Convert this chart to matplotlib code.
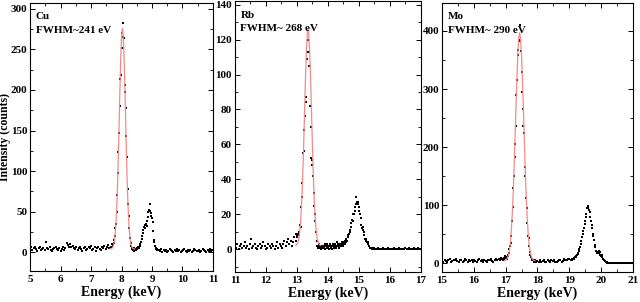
from __future__ import annotations

import matplotlib
matplotlib.use("Agg")
import matplotlib.pyplot as plt
import numpy as np
from matplotlib.ticker import MultipleLocator

# ---- Cu spectrum (counts, segments of constant channel step) ----
cu_bg_left = [4, 6, 3, 5, 7, 4, 2, 5, 6, 3, 4, 5, 3, 13, 5, 4, 6, 3, 2, 4,
              5, 7, 4, 3, 5, 2, 4, 6, 3, 5, 11, 9, 7, 10, 6, 8, 5, 4, 7, 3,
              5, 6, 4, 2, 5, 7, 3, 4, 6, 5, 8, 3, 4, 6, 2, 5, 7, 4, 3, 6,
              5, 8, 4, 6, 9, 5, 7, 10]
cu_peak = [7, 9, 11, 15, 20, 30, 35, 50, 70, 98, 123, 147, 180, 214, 218, 251, 270, 283, 265, 264,
           206, 197, 178, 143, 118, 78, 60, 45, 30, 18, 12, 8, 5, 4, 3, 5, 2, 3, 4, 3,
           5, 4, 6, 5, 6, 8, 10, 13, 16, 20, 24, 27, 31, 34, 30, 35, 33, 38, 44, 50,
           52, 51, 60, 48, 45, 42, 37, 26, 15, 13, 8, 5, 4, 3, 4]
cu_bg_right = [3, 2, 4, 1, 3, 2, 3, 1, 2, 4, 3, 2, 1, 3, 2, 4, 2, 3, 1, 2,
               3, 4, 2, 1, 3, 2, 3, 1, 2, 4, 3, 2, 2, 3, 1, 2, 4, 3, 2, 1,
               3, 2, 4, 2, 3]
cu_fit = [4.1, 4.3, 4.8, 5.7, 7.6, 11, 17.5, 28, 44, 66, 96, 132, 172, 211, 245, 268, 276,
          268, 245, 211, 172, 132, 96, 66, 44, 28, 17.5, 11, 7.6, 5.7, 4.8, 4.3, 4.1]

# ---- Rb spectrum ----
rb_bg_left = [2, 1, 3, 0, 2, 3, 1, 2, 4, 1, 2, 0, 3, 6, 1, 2, 3, 1, 0, 2,
              3, 1, 2, 4, 2, 0, 1, 3, 2, 1, 3, 2, 0, 2, 4, 1, 3, 2, 1, 3,
              5, 2, 4, 6, 3, 5, 2, 4, 7, 5]
rb_peak = [9, 8, 7, 9, 8, 10, 14, 13, 24, 30, 38, 55, 56, 68, 76, 84, 87, 113, 109, 120,
           113, 105, 82, 70, 52, 51, 48, 42, 32, 25, 20, 16, 10, 5, 2, 1, 2, 3, 1, 2,
           0, 2, 1]
rb_kbeta = [2, 1, 3, 0, 2, 1, 3, 2, 1, 0, 2, 3, 1, 2, 0, 3, 2, 1, 2, 3,
            1, 2, 4, 2, 3, 1, 2, 3, 2, 4, 3, 2,
            3, 4, 3, 5, 4, 6, 5, 7, 8, 9, 11, 10, 13, 15, 17, 16, 20, 20, 22, 24,
            26, 30, 27, 26, 27, 24, 22, 20, 18, 14, 12, 13, 11, 10, 8, 6, 6, 5, 4, 4,
            3, 2, 2, 1, 1, 1, 0, 1, 0, 1, 0]
rb_bg_right = [0, 0, 1, 0, 0, 0, 1, 0, 0, 0, 1, 0, 0, 0, 0, 1, 0, 0, 0, 1,
               0, 0, 0, 0, 1, 0, 0, 1, 0, 0, 0, 1, 0, 0, 1, 0, 0]
rb_fit = [2.2, 2.6, 3.1, 4.1, 5.9, 8.8, 13.2, 19.7, 28.6, 40, 54, 70, 86.4, 102, 114.6, 123, 126,
          123, 114.6, 102, 86.4, 70, 54, 40, 28.6, 19.7, 13.2, 8.8, 5.9, 4.1, 3.1, 2.6, 2.2]

# ---- Mo spectrum ----
mo_bg_left = [5, 3, 6, 4, 2, 5, 7, 3, 4, 6, 5, 8, 4, 3, 6, 5, 2, 4, 7, 5,
              3, 6, 4, 5, 2, 6, 4, 3, 5, 7, 4, 6, 3, 5, 4, 2, 6, 5, 7, 4,
              3, 6, 8, 5, 7, 6, 9]
mo_peak = [8, 6, 9, 7, 12, 9, 11, 8, 14, 12, 18, 24, 30, 35,
           47, 72, 97, 130, 150, 183, 205, 237, 290, 315, 358, 367, 385, 410, 383, 365,
           330, 295, 265, 237, 225, 165, 150, 112, 95, 70, 47, 44, 30, 20, 14, 10, 7, 6, 5, 4,
           3, 5, 2, 4]
mo_bg_mid = [4, 2, 5, 3, 4, 6, 3, 2, 5, 4, 3, 6, 4, 5, 3, 2, 4, 6, 5, 3, 4, 7, 5, 6, 8, 7]
mo_kbeta = [6, 5, 7, 6, 8, 7, 9, 10, 11, 12, 14, 16, 18, 21, 24, 28, 33, 38, 45, 50,
            55, 61, 68, 72, 80, 85, 95, 98, 95, 92, 88, 80, 72, 66, 60, 50, 47, 40, 32, 28,
            22, 20, 18, 20, 17, 22, 15, 20, 12, 14, 10, 8, 6, 5, 4, 3, 2, 2, 1, 1,
            1, 1, 1, 1, 1, 1, 1, 1, 1]
mo_bg_right = [1, 1, 1, 1, 1, 1, 1, 1, 1, 1, 1, 1, 1, 1, 1]
mo_fit = [4.4, 5, 6.1, 8.4, 12.5, 19.7, 31.5, 49.5, 75.7, 110.6, 154.6, 206, 260.6, 313, 357, 386.7, 397,
          386.7, 357, 313, 260.6, 206, 154.6, 110.6, 75.7, 49.5, 31.5, 19.7, 12.5, 8.4, 6.1, 5, 4.4]

# energy range (keV) of each segment above
cu_segments = [((5.00, 7.68), cu_bg_left), ((7.70, 9.18), cu_peak), ((9.22, 10.98), cu_bg_right)]
rb_segments = [((11.00, 12.96), rb_bg_left), ((12.98, 13.82), rb_peak),
               ((13.86, 15.50), rb_kbeta), ((15.54, 16.98), rb_bg_right)]
mo_segments = [((15.00, 16.86), mo_bg_left), ((16.90, 17.96), mo_peak), ((18.00, 19.00), mo_bg_mid),
               ((19.04, 20.40), mo_kbeta), ((20.44, 20.98), mo_bg_right)]

panels = [
    dict(segments=cu_segments, fit=((7.63, 8.43), cu_fit), xlim=(5, 11), ylim=(-23, 307),
         ymajor=50, yminor=25, element="Cu", fwhm="FWHM~241 eV",
         rect=[0.0469, 0.1026, 0.2859, 0.8874]),
    dict(segments=rb_segments, fit=((12.96, 13.76), rb_fit), xlim=(11, 17), ylim=(-13, 142),
         ymajor=20, yminor=10, element="Rb", fwhm="FWHM~ 268 eV",
         rect=[0.367, 0.0993, 0.2906, 0.897]),
    dict(segments=mo_segments, fit=((16.96, 17.92), mo_fit), xlim=(15, 21), ylim=(-15, 448),
         ymajor=100, yminor=50, element="Mo", fwhm="FWHM~ 290 eV",
         rect=[0.6906, 0.0993, 0.2984, 0.8907]),
]

plt.rcParams["font.family"] = ["Liberation Serif", "DejaVu Serif"]
plt.rcParams["font.weight"] = "bold"

figure = plt.figure(figsize=(6.4, 3.02), dpi=100)

for index, panel in enumerate(panels):
    axis = figure.add_axes(panel["rect"])
    for (start, stop), counts in panel["segments"]:
        energy = np.linspace(start, stop, len(counts))
        axis.plot(energy, counts, "s", color="black", markersize=1.9, markeredgewidth=0)
    (start, stop), fit = panel["fit"]
    axis.plot(np.linspace(start, stop, len(fit)), fit, color="#f28a8a", linewidth=0.9)

    axis.set_xlim(*panel["xlim"])
    axis.set_ylim(*panel["ylim"])
    axis.xaxis.set_major_locator(MultipleLocator(1))
    axis.xaxis.set_minor_locator(MultipleLocator(0.5))
    axis.yaxis.set_major_locator(MultipleLocator(panel["ymajor"]))
    axis.yaxis.set_minor_locator(MultipleLocator(panel["yminor"]))
    axis.tick_params(which="both", direction="in", top=True, right=True, labelsize=8)
    axis.tick_params(axis="x", pad=3)
    axis.tick_params(axis="y", pad=2)
    axis.tick_params(which="major", length=3.5, width=0.7)
    axis.tick_params(which="minor", length=2, width=0.6)
    for spine in axis.spines.values():
        spine.set_linewidth(0.8)
    for label in axis.get_xticklabels() + axis.get_yticklabels():
        label.set_fontweight("bold")

    axis.set_xlabel("Energy (keV)", fontsize=10, fontweight="bold", labelpad=1)
    if index == 0:
        axis.set_ylabel("Intensity (counts)", fontsize=8.5, fontweight="bold")
        axis.yaxis.set_label_coords(-0.102, 0.5)

    axis.text(0.03, 0.965, panel["element"], transform=axis.transAxes, fontsize=8,
              fontweight="bold", va="top", ha="left")
    axis.text(0.03, 0.915, panel["fwhm"], transform=axis.transAxes, fontsize=8,
              fontweight="bold", va="top", ha="left")

figure.savefig("out.png", dpi=100)
plt.close(figure)
